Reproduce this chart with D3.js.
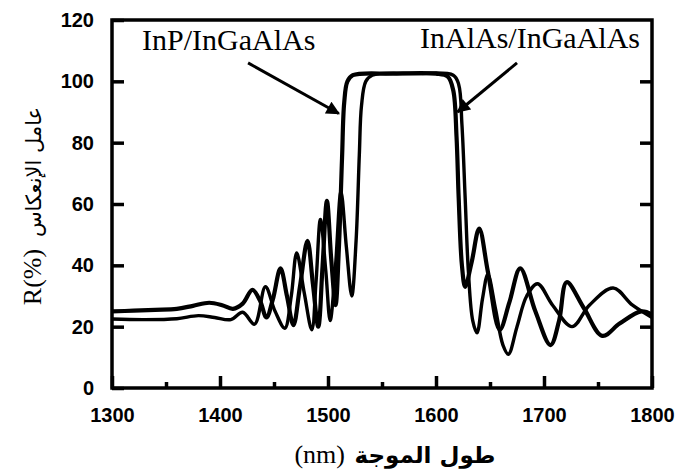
<!DOCTYPE html>
<html><head><meta charset="utf-8">
<script src="https://cdn.jsdelivr.net/npm/d3@7"></script>
<style>html,body{margin:0;padding:0;background:#fff;}svg{display:block;}</style>
</head><body>
<svg id="chart" width="679" height="470"></svg>
<script>
// ---- data ----
const wavelengthTicks = [1300, 1400, 1500, 1600, 1700, 1800];
const wavelengthMinorTicks = [1350, 1450, 1550, 1650, 1750];
const reflectanceTicks = [0, 20, 40, 60, 80, 100, 120];

const seriesNames = ["InP/InGaAlAs", "InAlAs/InGaAlAs"];

const inpWavelength = [1300,1320,1340,1360,1375,1390,1402,1412,1421,1430,1437,1443,1449,1456,1462,1468,1474,1481,1486,1491,1495,1499,1503,1507,1510,1513,1515,1518,1523,1560,1600,1611,1616,1619,1621,1624,1627,1633,1640,1648,1659,1668,1678,1692,1706,1714,1721,1737,1754,1770,1790,1800];
const inpReflectance = [25,25.2,25.5,25.8,26.8,27.8,27,25.8,27.5,32,28.5,23,29,39,30,20.5,33,48,34,20,40,61,42,27,45,75,93,100,102,102.5,102.5,101.5,97,82,62,40,33,41,52,38,19,28,39,25,14,22,34.5,26,17,21,25,24];

const inalasWavelength = [1300,1330,1360,1380,1395,1410,1421,1432,1442,1451,1460,1466,1471,1478,1485,1489,1493,1498,1502,1507,1512,1517,1522,1526,1529,1531,1535,1541,1580,1616,1621,1624,1627,1630,1634,1638,1643,1648,1655,1662,1667,1675,1684,1694,1708,1726,1742,1764,1782,1800];
const inalasReflectance = [22.5,22.3,22.6,23.6,23,22.3,24.7,20.8,33,25,19.5,30,44,31,19,35,55,38,22,40,64,46,30,48,76,92,100,102,102.5,102,99,86,62,38,22,18,29,37,26,14,11,20,30,34,27,20,27,32.6,27,23];

// annotation arrows: [fromWavelength, fromR, toWavelength, toR]
const arrowInP = [1426, 106, 1510, 89.5];
const arrowInAlAs = [1675, 106, 1620, 90];

const yTitleLatin = "R(%)";
const yTitleArabic = "عامل الإنعكاس";
const xTitleLatin = "(nm)";
const xTitleArabic = "طول الموجة";

// ---- drawing ----
const svg = d3.select("#chart");
const x = d3.scaleLinear().domain([1300, 1800]).range([112, 652]);
const y = d3.scaleLinear().domain([0, 120]).range([388, 20]);

const defs = svg.append("defs");
defs.append("marker").attr("id", "ah").attr("viewBox", "0 0 10 10")
  .attr("refX", 9).attr("refY", 5).attr("markerWidth", 5).attr("markerHeight", 4.5)
  .attr("markerUnits", "strokeWidth").attr("orient", "auto")
  .append("path").attr("d", "M0,0 L10,5 L0,10 z").attr("fill", "#000");

// curves
const line = d3.line().x(d => x(d[0])).y(d => y(d[1])).curve(d3.curveCatmullRom.alpha(0.5));
const inp = inpWavelength.map((w, i) => [w, inpReflectance[i]]);
const inalas = inalasWavelength.map((w, i) => [w, inalasReflectance[i]]);

const plot = svg.append("g");
plot.append("path").datum(inalas).attr("d", line)
  .attr("fill", "none").attr("stroke", "#000").attr("stroke-width", 3.4)
  .attr("stroke-linejoin", "round");
plot.append("path").datum(inp).attr("d", line)
  .attr("fill", "none").attr("stroke", "#000").attr("stroke-width", 4.2)
  .attr("stroke-linejoin", "round");

// frame
const frame = svg.append("g").attr("stroke", "#000").attr("stroke-width", 3.5).attr("fill", "none");
frame.append("rect").attr("x", x(1300)).attr("y", y(120))
  .attr("width", x(1800) - x(1300)).attr("height", y(0) - y(120));

// left axis (ticks inward)
const yLeft = d3.axisLeft(y).tickValues(reflectanceTicks).tickSize(-12).tickPadding(30).tickFormat(d3.format("d"));
const gL = svg.append("g").attr("transform", `translate(${x(1300)},0)`).call(yLeft);
gL.select(".domain").remove();
gL.selectAll(".tick line").attr("stroke", "#000").attr("stroke-width", 3.5);
gL.selectAll(".tick text").attr("font-family", "Liberation Sans, Arial, sans-serif")
  .attr("font-weight", "bold").attr("font-size", 20).attr("fill", "#000")
  .attr("x", -18).attr("text-anchor", "end");

// right axis ticks (inward)
const yRight = d3.axisRight(y).tickValues(reflectanceTicks.filter(v => v > 0 && v < 120)).tickSize(-12).tickFormat("");
const gR = svg.append("g").attr("transform", `translate(${x(1800)},0)`).call(yRight);
gR.select(".domain").remove();
gR.selectAll(".tick line").attr("stroke", "#000").attr("stroke-width", 3.5);

// bottom axis (ticks inward)
const xAxis = d3.axisBottom(x).tickValues(wavelengthTicks).tickSize(-12).tickPadding(30).tickFormat(d3.format("d"));
const gB = svg.append("g").attr("transform", `translate(0,${y(0)})`).call(xAxis);
gB.select(".domain").remove();
gB.selectAll(".tick line").attr("stroke", "#000").attr("stroke-width", 3.5);
gB.selectAll(".tick text").attr("font-family", "Liberation Sans, Arial, sans-serif")
  .attr("font-weight", "bold").attr("font-size", 20).attr("fill", "#000").attr("y", 20);
const xMinor = d3.axisBottom(x).tickValues(wavelengthMinorTicks).tickSize(-6).tickFormat("");
const gBm = svg.append("g").attr("transform", `translate(0,${y(0)})`).call(xMinor);
gBm.select(".domain").remove();
gBm.selectAll(".tick line").attr("stroke", "#000").attr("stroke-width", 3.5);

// arrows
[arrowInP, arrowInAlAs].forEach(a => {
  svg.append("line").attr("x1", x(a[0])).attr("y1", y(a[1]))
    .attr("x2", x(a[2])).attr("y2", y(a[3]))
    .attr("stroke", "#000").attr("stroke-width", 3).attr("marker-end", "url(#ah)");
});

// series labels
svg.append("text").attr("x", 142).attr("y", 50).text(seriesNames[0])
  .attr("font-family", "Liberation Serif, Times New Roman, serif").attr("font-size", 30).attr("fill", "#000");
svg.append("text").attr("x", 640).attr("y", 48).attr("text-anchor", "end").text(seriesNames[1])
  .attr("font-family", "Liberation Serif, Times New Roman, serif").attr("font-size", 30).attr("fill", "#000");

// y title (rotated)
svg.append("text").attr("transform", "translate(41,277) rotate(-90)").attr("text-anchor", "middle")
  .attr("font-family", "Liberation Serif, Times New Roman, serif").attr("font-size", 26).attr("fill", "#000")
  .text(yTitleLatin);
svg.append("text").attr("transform", "translate(41,172) rotate(-90)").attr("text-anchor", "middle")
  .attr("font-family", "DejaVu Sans, sans-serif").attr("font-size", 21).attr("fill", "#000")
  .text(yTitleArabic);

// x title
svg.append("text").attr("x", 345).attr("y", 463).attr("text-anchor", "end")
  .attr("font-family", "Liberation Serif, Times New Roman, serif").attr("font-size", 26).attr("fill", "#000")
  .text(xTitleLatin);
svg.append("text").attr("x", 425).attr("y", 463).attr("text-anchor", "middle")
  .attr("font-family", "DejaVu Sans, sans-serif").attr("font-size", 23).attr("font-weight", "bold").attr("fill", "#000")
  .text(xTitleArabic);
</script>
</body></html>
